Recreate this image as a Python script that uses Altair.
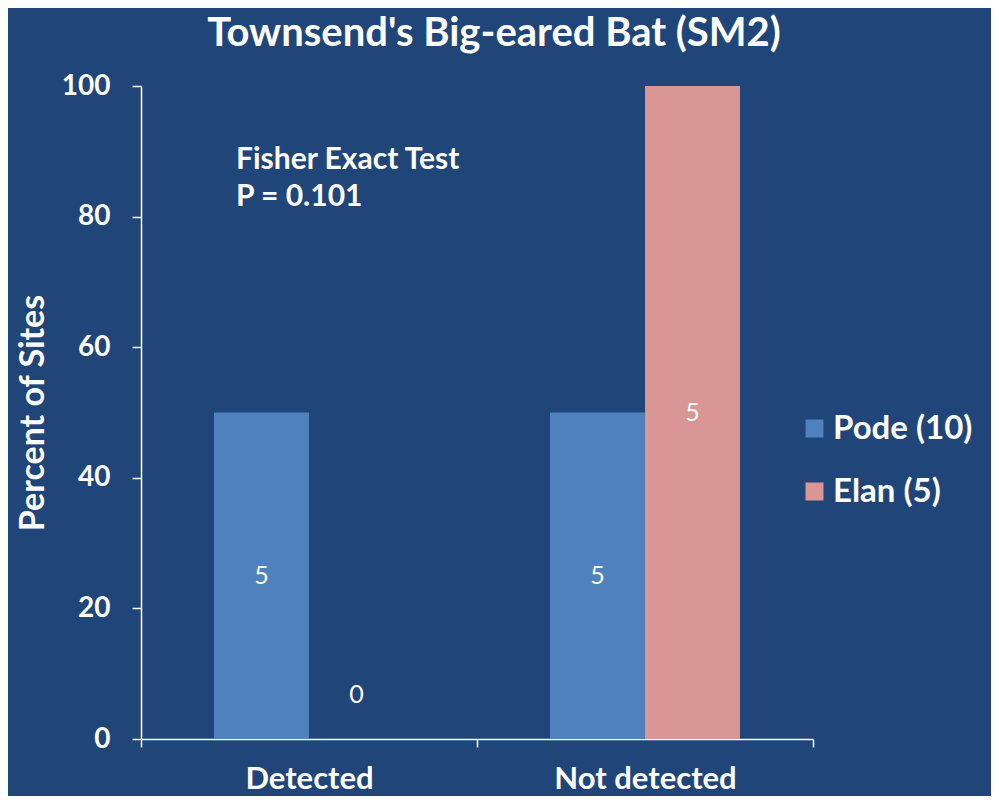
import altair as alt
import pandas as pd

# ---- data ----
categories = ["Detected", "Not detected"]
groups = ["Pode (10)", "Elan (5)"]
pode_pct = [50, 50]
elan_pct = [0, 100]
pode_n = [5, 5]
elan_n = [0, 5]
y_ticks = [0, 20, 40, 60, 80, 100]
annotation = ["Fisher Exact Test", "P = 0.101"]
title_text = "Townsend's Big-eared Bat (SM2)"
y_title = "Percent of Sites"

colors = ["#4F81BD", "#D99694"]
BG = "#1F4579"
FONT = "Lato"

rows = []
for i, c in enumerate(categories):
    rows.append({"cat": c, "grp": groups[0], "pct": pode_pct[i], "n": pode_n[i]})
    rows.append({"cat": c, "grp": groups[1], "pct": elan_pct[i], "n": elan_n[i]})
df = pd.DataFrame(rows)

W, H = 672, 653

x_enc = alt.X(
    "cat:N",
    sort=categories,
    scale=alt.Scale(paddingInner=0, paddingOuter=0),
    axis=alt.Axis(
        title=None, labelAngle=0, labelFontSize=31, labelFontWeight="bold",
        labelColor="white", labelFont=FONT, labelPadding=17, labelLimit=500,
        domainColor="white", domainWidth=1.5, tickColor="white",
        tickSize=8, tickWidth=1.5, tickBand="extent", grid=False,
    ),
)
xo_enc = alt.XOffset("grp:N", sort=groups, scale=alt.Scale(paddingInner=0, paddingOuter=0.768))
y_axis = alt.Axis(
    values=y_ticks, title=y_title, titleFont=FONT, titleFontSize=34,
    titleFontWeight="bold", titleColor="white", titleAngle=270,
    titleX=-108, titleY=H / 2, titleAlign="center", titleBaseline="middle",
    labelFontSize=28, labelFontWeight="bold", labelColor="white", labelFont=FONT,
    labelPadding=22, domainColor="white", domainWidth=1.5, tickColor="white",
    tickSize=9, tickWidth=1.5, grid=False,
)

base = alt.Chart(df)

bars = base.mark_bar(size=95).encode(
    x=x_enc,
    xOffset=xo_enc,
    y=alt.Y("pct:Q", scale=alt.Scale(domain=[0, 100]), axis=y_axis),
    color=alt.Color(
        "grp:N", sort=groups,
        scale=alt.Scale(domain=groups, range=colors),
        legend=alt.Legend(
            title=None, orient="none", legendX=657, legendY=326,
            symbolType="square", symbolSize=324, symbolStrokeWidth=0,
            labelFontSize=33, labelFontWeight="bold", labelColor="white",
            labelFont=FONT, rowPadding=29, labelOffset=2, padding=0,
            labelLimit=400,
        ),
    ),
)

labels = base.transform_calculate(
    ly="datum.pct > 0 ? datum.pct / 2 : 6.7"
).mark_text(color="white", fontSize=25, font=FONT, baseline="middle").encode(
    x=alt.X("cat:N", sort=categories),
    xOffset=alt.XOffset("grp:N", sort=groups),
    y=alt.Y("ly:Q"),
    text=alt.Text("n:Q"),
)

ann = alt.Chart(pd.DataFrame({"k": [0]})).mark_text(
    color="white", fontSize=30, fontWeight="bold", font=FONT,
    align="left", baseline="middle", lineHeight=37,
).encode(
    x=alt.value(95), y=alt.value(74), text=alt.value(annotation),
)

chart = alt.layer(bars, labels, ann).properties(
    width=W, height=H,
    title=alt.TitleParams(
        title_text, fontSize=40, fontWeight="bold", color="white",
        font=FONT, anchor="middle", offset=18, dx=17,
    ),
    background=BG,
    autosize=alt.AutoSizeParams(type="none"),
    padding={"left": 133, "top": 78, "right": 178, "bottom": 57},
).configure_view(stroke=None)

chart.save("out.html", embed_options={"renderer": "svg", "actions": False})
